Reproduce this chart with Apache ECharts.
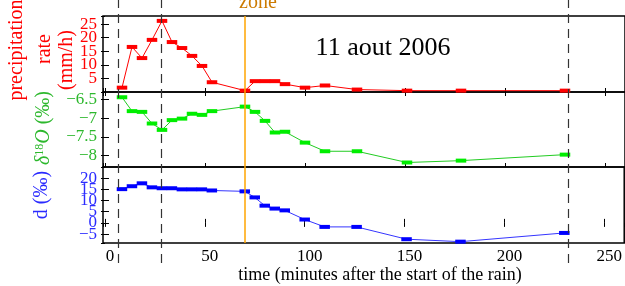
<!DOCTYPE html>
<html><head><meta charset="utf-8">
<script src="https://cdn.jsdelivr.net/npm/echarts@6/dist/echarts.min.js"></script>
<style>html,body{margin:0;padding:0;background:#fff}#c{width:625px;height:286px}</style>
</head><body><div id="c"></div>
<script>
// ---- data ----
const sampleTimes = [8.5, 13.5, 18.5, 23.5, 28.5, 33.5, 38.5, 43.5, 48.5, 53.5, 70, 75, 80, 85, 90, 100, 110, 126, 151, 178, 230];
const precipRate  = [1.6, 16.6, 12.5, 19.2, 26.2, 18.4, 16.2, 13.3, 9.6, 3.6, 0.5, 4.0, 4.0, 4.0, 2.9, 1.6, 2.4, 0.9, 0.5, 0.5, 0.5];
const delta18O    = [-6.44, -6.81, -6.83, -7.14, -7.31, -7.05, -7.01, -6.88, -6.91, -6.81, -6.69, -6.83, -7.07, -7.38, -7.36, -7.65, -7.88, -7.88, -8.18, -8.13, -7.97];
const dExcess     = [15.1, 16.4, 17.7, 15.9, 15.5, 15.5, 15.0, 15.0, 15.0, 14.5, 14.1, 11.4, 7.7, 6.4, 5.6, 1.5, -1.8, -1.8, -7.3, -8.4, -4.5];
const markerTimes = [6.5, 28.25, 231.5];
const zoneTime = 70;
const xTicks = [0, 50, 100, 150, 200, 250];
const precipTicks = [0, 5, 10, 15, 20, 25];
const deltaTicks = [-8, -7.5, -7, -6.5];
const dTicks = [-5, 0, 5, 10, 15, 20];

const F = 'Liberation Serif';
const RED = '#ff0000', GREEN_TXT = '#2db82d', GREEN_BAR = '#00ee00', GREEN_LINE = '#22cc22';
const BLUE = '#0000ff', BLUE_TXT = '#2a2aff';

const fmt = ticks => v => {
  const r = Math.round(v * 100) / 100;
  return ticks.some(t => Math.abs(t - r) < 1e-6) ? String(r).replace('-', '\u2212') : '';
};

const grids = [
  {left: 103, right: 0, top: 16, height: 76},
  {left: 103, right: 0, top: 92, height: 75},
  {left: 103, right: 0, top: 167, height: 76},
  {left: 103, right: 0, top: 0, height: 263},
  {left: 103, right: 0, top: 16, height: 227}
].map((g, i) => Object.assign(g, i < 3 ? {show: true, borderColor: '#000', borderWidth: 1.5} : {show: false}));

const tick = {inside: true, length: 4, lineStyle: {color: '#000', width: 1}};
function xAx(gi, pos, labels, hidden) {
  return {
    type: 'value', gridIndex: gi, position: pos, min: -1, max: 260, splitNumber: 5,
    show: !hidden, axisLine: {show: false}, splitLine: {show: false},
    axisTick: tick,
    axisLabel: labels ? {show: true, fontFamily: F, fontSize: 17, color: '#000', margin: 5,
      padding: [0, 0, 0, 10], showMinLabel: false, showMaxLabel: false, formatter: fmt(xTicks)} : {show: false}
  };
}
function yAx(gi, pos, min, max, opt, labelColor, ticks) {
  return Object.assign({
    type: 'value', gridIndex: gi, position: pos, min: min, max: max,
    axisLine: {show: false}, splitLine: {show: false}, axisTick: tick,
    axisLabel: labelColor ? {show: true, fontFamily: F, fontSize: 17, color: labelColor, margin: 6,
      padding: [0, 0, 6, 0], showMinLabel: false, showMaxLabel: false, formatter: fmt(ticks)} : {show: false}
  }, opt);
}

const xAxis = [
  xAx(0, 'bottom'), xAx(1, 'bottom'), xAx(2, 'bottom', true),
  xAx(0, 'top'), xAx(1, 'top'), xAx(2, 'top'),
  xAx(3, 'bottom', false, true), xAx(4, 'bottom', false, true)
];
const yAxis = [
  yAx(0, 'left', 0, 28, {interval: 5}, RED, precipTicks),
  yAx(1, 'left', -8.3, -6.3, {splitNumber: 4}, GREEN_TXT, deltaTicks),
  yAx(2, 'left', -9, 25, {splitNumber: 7}, BLUE_TXT, dTicks),
  yAx(0, 'right', 0, 28, {interval: 5}),
  yAx(1, 'right', -8.3, -6.3, {splitNumber: 4}),
  yAx(2, 'right', -9, 25, {splitNumber: 7}),
  {type: 'value', gridIndex: 3, min: 0, max: 1, show: false},
  {type: 'value', gridIndex: 4, min: 0, max: 1, show: false}
];

function ser(xi, vals, barColor, lineColor) {
  return {
    type: 'line', xAxisIndex: xi, yAxisIndex: xi,
    data: sampleTimes.map((t, i) => [t, vals[i]]),
    symbol: 'rect', symbolSize: [10.5, 4], showAllSymbol: true,
    itemStyle: {color: barColor}, lineStyle: {color: lineColor, width: 1}, z: 3
  };
}

const series = [
  ser(0, precipRate, RED, RED),
  ser(1, delta18O, GREEN_BAR, GREEN_LINE),
  ser(2, dExcess, BLUE, '#3535ff'),
  {type: 'line', xAxisIndex: 6, yAxisIndex: 6, data: [], silent: true, z: 4,
    markLine: {silent: true, symbol: 'none', label: {show: false},
      lineStyle: {color: '#333', width: 1.2, type: [9, 6]},
      data: markerTimes.map(t => ({xAxis: t}))}},
  {type: 'line', xAxisIndex: 7, yAxisIndex: 7, data: [], silent: true, z: 2,
    markLine: {silent: true, symbol: 'none', label: {show: false},
      lineStyle: {color: '#ffa500', width: 1.5, type: 'solid'},
      data: [{xAxis: zoneTime}]}}
];

const txt = (x, y, text, color, size, rot, extra) => ({
  type: 'text', x: x, y: y, rotation: rot || 0, silent: true,
  style: Object.assign({text: text, fill: color, font: size + 'px "' + F + '"', align: 'center', verticalAlign: 'middle'}, extra || {})
});

const graphic = [
  txt(17, 50, 'precipitation', RED, 20, Math.PI / 2),
  txt(45, 49, 'rate', RED, 20, Math.PI / 2),
  txt(67, 60, '(mm/h)', RED, 20, Math.PI / 2),
  {type: 'text', x: 44, y: 128, rotation: Math.PI / 2, silent: true,
    style: {text: '{i|\u03b4}{s|18}{i|O} (\u2030)', fill: GREEN_TXT, font: '20px "' + F + '"', align: 'center', verticalAlign: 'middle',
      rich: {i: {fontStyle: 'italic', fontSize: 20, fontFamily: F, fill: GREEN_TXT},
             s: {fontSize: 12, fontFamily: F, fill: GREEN_TXT, verticalAlign: 'top'}}}},
  txt(42, 195, 'd (\u2030)', BLUE_TXT, 20, Math.PI / 2),
  txt(383, 48, '11 aout 2006', '#000', 26, 0),
  txt(258, 3, 'zone', '#cc7a00', 20, 0),
  txt(380, 275, 'time (minutes after the start of the rain)', '#000', 18, 0)
];

const chart = echarts.init(document.getElementById('c'), null, {renderer: 'canvas'});
chart.setOption({animation: false, backgroundColor: '#fff', grid: grids, xAxis: xAxis, yAxis: yAxis, series: series, graphic: graphic});
</script></body></html>
